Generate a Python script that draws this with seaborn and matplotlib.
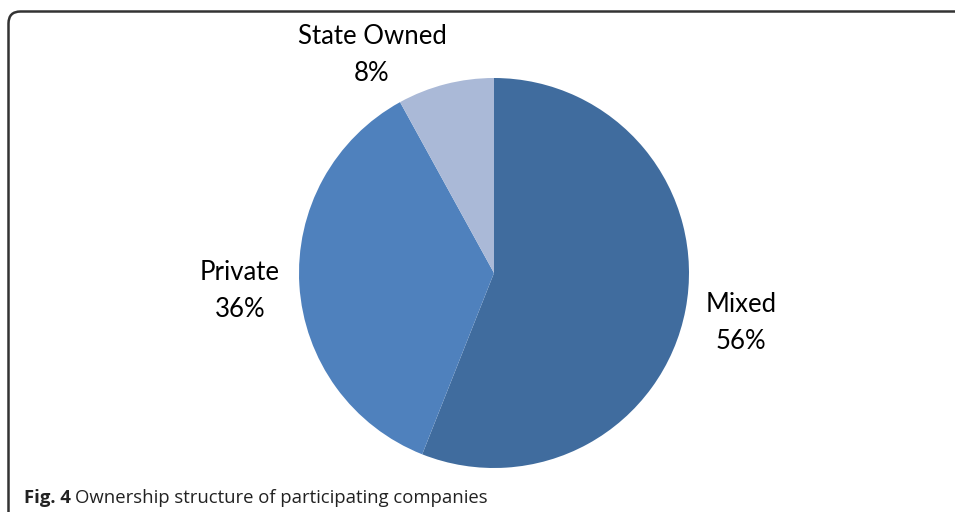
import matplotlib
matplotlib.use('Agg')
import matplotlib.pyplot as plt
import seaborn as sns
from matplotlib.patches import FancyBboxPatch

categories = ["Mixed", "Private", "State Owned"]
shares = [56, 36, 8]
colors = ["#406C9E", "#4F81BD", "#AAB9D7"]
caption_bold = "Fig. 4"
caption_text = "Ownership structure of participating companies"

sns.set_theme(style="white")
plt.rcParams['font.family'] = ['Lato', 'DejaVu Sans']

W, H = 955, 512
fig = plt.figure(figsize=(W / 100, H / 100), dpi=100)
ax = fig.add_axes([0, 0, 1, 1])

# frame with rounded corner, running off the right/bottom edge
frame = FancyBboxPatch((8.5, -30), W + 40, H - 11 + 30 - 0.5,
                       boxstyle="round,pad=0,rounding_size=12",
                       fill=False, edgecolor="#333333", linewidth=1.8)
ax.add_patch(frame)

labels = [f"{c}\n{s}%" for c, s in zip(categories, shares)]
wedges, texts = ax.pie(shares, labels=labels, colors=colors, startangle=90,
                       counterclock=False, center=(494, 239), radius=195,
                       labeldistance=1.28, frame=True,
                       wedgeprops=dict(linewidth=0),
                       textprops=dict(fontsize=18.5, color="#000000",
                                      linespacing=1.6))
ax.set_xlim(0, W)
ax.set_ylim(0, H)
ax.set_aspect('equal')
ax.axis('off')
# label placement as in the original layout
label_pos = [(741, 189), (240, 221), (372, 457)]
for t, p in zip(texts, label_pos):
    t.set_ha('center')
    t.set_va('center')
    t.set_position(p)

fb = ax.text(24, 9, caption_bold, fontsize=13.3, fontweight='bold',
             family=['Open Sans', 'DejaVu Sans'], color="#222222", va='baseline')
fig.canvas.draw()
bb = fb.get_window_extent()
x_end = ax.transData.inverted().transform((bb.x1, bb.y0))[0]
ax.text(x_end + 4, 9, caption_text, fontsize=13.3,
        family=['Open Sans', 'DejaVu Sans'], color="#222222", va='baseline')

fig.savefig("out.png", dpi=100)
